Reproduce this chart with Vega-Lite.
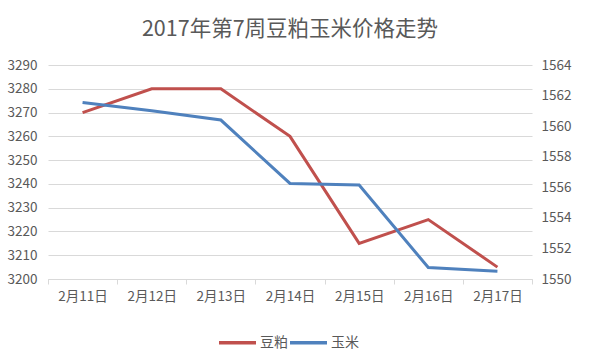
{
  "$schema": "https://vega.github.io/schema/vega-lite/v6.json",
  "width": 484,
  "height": 214,
  "autosize": {"type": "none"},
  "padding": {"left": 48, "top": 65, "right": 57, "bottom": 73},
  "background": "white",
  "title": {
    "text": "2017年第7周豆粕玉米价格走势",
    "font": "Noto Sans CJK SC",
    "fontSize": 21.5,
    "fontWeight": "normal",
    "color": "#595959",
    "anchor": "middle",
    "frame": "group",
    "offset": 18
  },
  "config": {
    "view": {"stroke": null},
    "axis": {
      "labelFont": "Noto Sans CJK SC",
      "labelFontSize": 13.5,
      "labelColor": "#595959",
      "titleColor": "#595959"
    },
    "legend": {
      "labelFont": "Noto Sans CJK SC",
      "labelFontSize": 14,
      "labelColor": "#595959"
    }
  },
  "data": {
    "values": [
      {"date": "2月11日", "series": "豆粕", "value": 3270},
      {"date": "2月12日", "series": "豆粕", "value": 3280},
      {"date": "2月13日", "series": "豆粕", "value": 3280},
      {"date": "2月14日", "series": "豆粕", "value": 3260},
      {"date": "2月15日", "series": "豆粕", "value": 3215},
      {"date": "2月16日", "series": "豆粕", "value": 3225},
      {"date": "2月17日", "series": "豆粕", "value": 3205},
      {"date": "2月11日", "series": "玉米", "value": 1561.55},
      {"date": "2月12日", "series": "玉米", "value": 1561.0},
      {"date": "2月13日", "series": "玉米", "value": 1560.4},
      {"date": "2月14日", "series": "玉米", "value": 1556.25},
      {"date": "2月15日", "series": "玉米", "value": 1556.15},
      {"date": "2月16日", "series": "玉米", "value": 1550.75},
      {"date": "2月17日", "series": "玉米", "value": 1550.5}
    ]
  },
  "encoding": {
    "x": {
      "field": "date",
      "type": "ordinal",
      "sort": null,
      "scale": {"paddingInner": 0, "paddingOuter": 0},
      "axis": {
        "title": null,
        "labelAngle": 0,
        "tickBand": "extent",
        "domainColor": "#d9d9d9",
        "tickColor": "#d9d9d9",
        "tickSize": 5,
        "labelPadding": 5,
        "grid": false
      }
    },
    "color": {
      "field": "series",
      "type": "nominal",
      "scale": {"domain": ["豆粕", "玉米"], "range": ["#C0504D", "#4F81BD"]},
      "legend": {
        "title": null,
        "orient": "none",
        "direction": "horizontal",
        "legendX": 169,
        "legendY": 257,
        "symbolType": "stroke",
        "symbolStrokeWidth": 3.5,
        "symbolSize": 1369,
        "columnPadding": -6,
        "labelOffset": 2
      }
    }
  },
  "layer": [
    {
      "transform": [{"filter": "datum.series === '豆粕'"}],
      "mark": {"type": "line", "strokeWidth": 3},
      "encoding": {
        "y": {
          "field": "value",
          "type": "quantitative",
          "scale": {"domain": [3200, 3290], "zero": false, "nice": false},
          "axis": {
            "title": null,
            "orient": "left",
            "format": "d",
            "values": [3200, 3210, 3220, 3230, 3240, 3250, 3260, 3270, 3280, 3290],
            "domain": false,
            "ticks": false,
            "labelPadding": 11,
            "grid": true,
            "gridColor": "#d9d9d9",
            "gridWidth": 1
          }
        }
      }
    },
    {
      "transform": [{"filter": "datum.series === '玉米'"}],
      "mark": {"type": "line", "strokeWidth": 3},
      "encoding": {
        "y": {
          "field": "value",
          "type": "quantitative",
          "scale": {"domain": [1550, 1564], "zero": false, "nice": false},
          "axis": {
            "title": null,
            "orient": "right",
            "format": "d",
            "values": [1550, 1552, 1554, 1556, 1558, 1560, 1562, 1564],
            "domain": false,
            "ticks": false,
            "labelPadding": 9,
            "grid": false
          }
        }
      }
    }
  ],
  "resolve": {"scale": {"y": "independent"}}
}
